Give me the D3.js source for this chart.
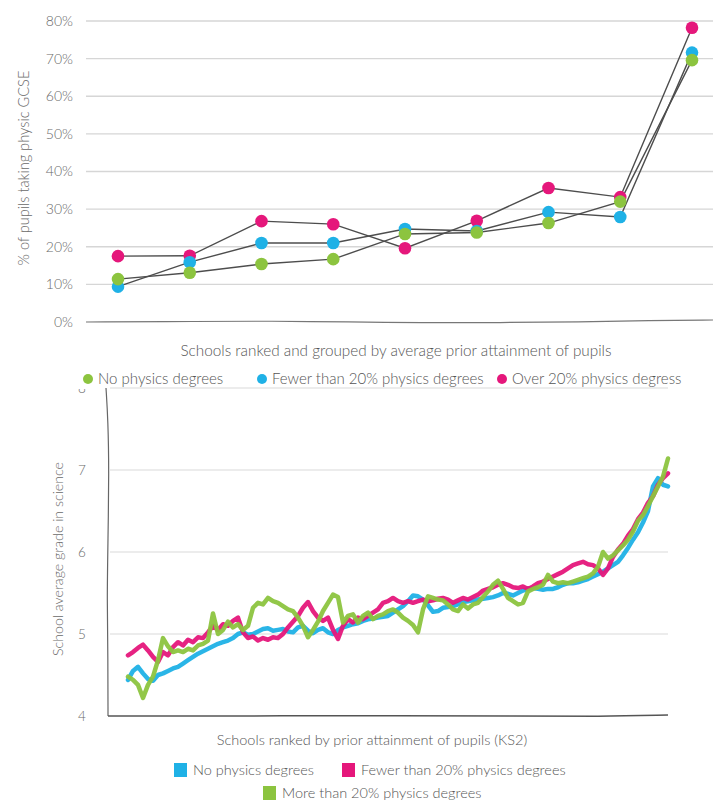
<!DOCTYPE html>
<html><head><meta charset="utf-8">
<script src="https://cdn.jsdelivr.net/npm/d3@7"></script>
<style>
body{margin:0;background:#fff;}
text{font-family:"Lato","Open Sans",sans-serif;font-weight:300;}
</style></head>
<body><svg id="c" width="713" height="802"></svg>
<script>
// ---------- Top chart data ----------
const groups = [1,2,3,4,5,6,7,8,9];
const topTicks = [0,10,20,30,40,50,60,70,80];
const noPhysicsPct    = [11.4,13.1,15.4,16.7,23.4,23.8,26.3,32.0,69.6];
const fewerPhysicsPct = [9.4,15.9,21.0,21.0,24.7,24.2,29.2,27.9,71.6];
const overPhysicsPct  = [17.5,17.6,26.8,26.0,19.6,26.9,35.6,33.2,78.2];
const topSeriesNames = ["No physics degrees","Fewer than 20% physics degrees","Over 20% physics degress"];

// ---------- Bottom chart data ----------
const bottomTicks = [4,5,6,7,8];
const noPhysicsGrade = [4.44,4.55,4.60,4.52,4.45,4.43,4.50,4.52,4.55,4.58,4.60,4.64,4.68,4.72,4.76,4.79,4.82,4.85,4.88,4.90,4.92,4.95,5.00,5.02,4.99,5.00,5.03,5.06,5.07,5.04,5.05,5.06,5.03,5.02,5.08,5.10,5.04,5.01,5.05,5.07,5.02,5.00,5.05,5.08,5.10,5.12,5.13,5.16,5.18,5.19,5.20,5.21,5.22,5.26,5.30,5.34,5.40,5.47,5.46,5.42,5.35,5.27,5.28,5.32,5.33,5.34,5.36,5.39,5.40,5.41,5.42,5.43,5.44,5.45,5.47,5.50,5.49,5.47,5.50,5.53,5.55,5.56,5.55,5.54,5.55,5.55,5.57,5.60,5.62,5.62,5.63,5.65,5.67,5.70,5.73,5.76,5.80,5.84,5.88,5.96,6.05,6.15,6.24,6.36,6.50,6.80,6.90,6.82,6.80];
const fewerPhysicsGrade = [4.74,4.78,4.83,4.87,4.80,4.72,4.66,4.78,4.74,4.84,4.90,4.86,4.93,4.90,4.96,4.95,5.02,5.10,5.05,5.12,5.10,5.16,5.20,5.02,4.95,4.97,4.92,4.95,4.93,4.96,4.95,5.00,5.08,5.15,5.22,5.32,5.39,5.28,5.20,5.16,5.20,5.05,4.94,5.10,5.18,5.14,5.20,5.18,5.22,5.26,5.30,5.38,5.40,5.44,5.40,5.38,5.40,5.38,5.40,5.42,5.40,5.41,5.43,5.44,5.42,5.38,5.41,5.44,5.42,5.45,5.48,5.53,5.55,5.57,5.60,5.62,5.60,5.57,5.56,5.58,5.55,5.58,5.62,5.64,5.67,5.70,5.73,5.76,5.80,5.84,5.86,5.88,5.85,5.84,5.80,5.72,5.80,5.94,6.03,6.10,6.20,6.28,6.40,6.48,6.60,6.68,6.82,6.90,6.96];
const morePhysicsGrade = [4.48,4.44,4.38,4.22,4.38,4.48,4.68,4.95,4.85,4.78,4.80,4.78,4.82,4.80,4.86,4.88,4.92,5.25,5.00,5.05,5.15,5.08,5.12,5.05,5.10,5.32,5.38,5.36,5.44,5.40,5.38,5.34,5.30,5.28,5.20,5.10,4.96,5.05,5.15,5.28,5.38,5.48,5.45,5.14,5.22,5.24,5.14,5.22,5.26,5.18,5.22,5.24,5.28,5.30,5.26,5.20,5.16,5.11,5.02,5.30,5.46,5.44,5.42,5.41,5.36,5.30,5.28,5.36,5.31,5.36,5.38,5.45,5.52,5.60,5.65,5.55,5.44,5.40,5.36,5.38,5.52,5.55,5.57,5.60,5.72,5.64,5.62,5.63,5.62,5.64,5.66,5.68,5.70,5.74,5.82,6.00,5.92,5.96,6.02,6.08,6.15,6.25,6.38,6.45,6.56,6.68,6.80,6.92,7.14];
const bottomSeriesNames = ["No physics degrees","Fewer than 20% physics degrees","More than 20% physics degrees"];

const GREEN="#8cc43f", BLUE="#1fb1e6", PINK="#e5177b";
const svg = d3.select("#c");
const txt = "#6a6a6a";

// ================= TOP CHART =================
const xT = d3.scalePoint().domain(groups).range([118,692]);
const yT = d3.scaleLinear().domain([0,80]).range([322,21]);
const gT = svg.append("g");
gT.selectAll("line.grid").data(topTicks.filter(d=>d>0)).join("line")
  .attr("x1",86).attr("x2",713).attr("y1",d=>yT(d)).attr("y2",d=>yT(d))
  .attr("stroke","#d6d6d6").attr("stroke-width",1.4);
const baseX = [86,200,270,350,420,500,580,650,713];
const baseOff = [0,-0.5,-1,0,0.8,0.6,0,-1.5,-2];
gT.append("path")
  .attr("d", d3.line().curve(d3.curveBasis)(baseX.map((x,i)=>[x,yT(0)+baseOff[i]])))
  .attr("fill","none").attr("stroke","#777").attr("stroke-width",1.2);
gT.selectAll("text.tick").data(topTicks).join("text")
  .attr("x",73).attr("y",d=>yT(d)).attr("dy","0.35em").attr("text-anchor","end")
  .attr("font-size",14).attr("fill",txt).text(d=>d+"%");
gT.append("text").attr("transform","translate(29,168) rotate(-90)").attr("text-anchor","middle")
  .attr("font-size",14.6).attr("fill",txt).text("% of pupils taking physic GCSE");
gT.append("text").attr("x",396).attr("y",351).attr("dy","0.35em").attr("text-anchor","middle")
  .attr("font-size",15.3).attr("fill","#555").text("Schools ranked and grouped by average prior attainment of pupils");

const topSeries = [
  {name:topSeriesNames[0], vals:noPhysicsPct, color:GREEN},
  {name:topSeriesNames[1], vals:fewerPhysicsPct, color:BLUE},
  {name:topSeriesNames[2], vals:overPhysicsPct, color:PINK}
];
const lineT = d3.line().x((d,i)=>xT(groups[i])).y(d=>yT(d));
topSeries.forEach(s=>{
  gT.append("path").attr("d",lineT(s.vals)).attr("fill","none")
    .attr("stroke","#4d4d4d").attr("stroke-width",1.4);
});
[2,1,0].forEach(k=>{
  const s = topSeries[k];
  gT.selectAll(null).data(s.vals).join("circle")
    .attr("cx",(d,i)=>xT(groups[i])).attr("cy",d=>yT(d)).attr("r",6.3).attr("fill",s.color);
});
const legT = [{x:88},{x:262},{x:502}];
topSeries.forEach((s,i)=>{
  gT.append("circle").attr("cx",legT[i].x).attr("cy",379).attr("r",5).attr("fill",s.color);
  gT.append("text").attr("x",legT[i].x+10).attr("y",379).attr("dy","0.35em")
    .attr("font-size",15).attr("fill","#555").text(s.name);
});

// ================= BOTTOM CHART =================
const n = noPhysicsGrade.length;
const xB = d3.scaleLinear().domain([0,n-1]).range([128,668]);
const yB = d3.scaleLinear().domain([4,8]).range([716,388]);
const gB = svg.append("g");
svg.append("defs").append("clipPath").attr("id","clipB").append("rect")
  .attr("x",0).attr("y",389).attr("width",713).attr("height",413);
gB.selectAll("line.grid").data(bottomTicks.filter(d=>d>4)).join("line")
  .attr("x1",110).attr("x2",668).attr("y1",d=>yB(d)).attr("y2",d=>yB(d))
  .attr("stroke","#d9d9d9").attr("stroke-width",1.2);
gB.append("g").attr("clip-path","url(#clipB)").selectAll("text").data(bottomTicks).join("text")
  .attr("x",82).attr("y",d=>yB(d)).attr("dy","0.35em").attr("text-anchor","middle")
  .attr("font-size",13.5).attr("fill",txt).text(d=>d);
const frameL = [[106,388],[108,420],[109,470],[108,540],[107,600],[108,660],[108,716]];
gB.append("path").attr("d",d3.line().curve(d3.curveBasis)(frameL))
  .attr("fill","none").attr("stroke","#666").attr("stroke-width",1.2);
const frameB = [[108,716],[250,716],[400,715.5],[520,716],[600,716.5],[668,715]];
gB.append("path").attr("d",d3.line().curve(d3.curveBasis)(frameB))
  .attr("fill","none").attr("stroke","#555").attr("stroke-width",1.5);

const bottomSeries = [
  {name:bottomSeriesNames[0], vals:noPhysicsGrade, color:BLUE},
  {name:bottomSeriesNames[1], vals:fewerPhysicsGrade, color:PINK},
  {name:bottomSeriesNames[2], vals:morePhysicsGrade, color:GREEN}
];
const lineB = d3.line().x((d,i)=>xB(i)).y(d=>yB(d));
bottomSeries.forEach(s=>{
  gB.append("path").attr("d",lineB(s.vals)).attr("fill","none")
    .attr("stroke",s.color).attr("stroke-width",4.5).attr("stroke-linejoin","round")
    .attr("stroke-linecap","round").attr("opacity",0.95);
});
gB.append("text").attr("transform","translate(63,559) rotate(-90)").attr("text-anchor","middle")
  .attr("font-size",14.2).attr("fill",txt).text("School average grade in science");
gB.append("text").attr("x",372).attr("y",740).attr("dy","0.35em").attr("text-anchor","middle")
  .attr("font-size",14.5).attr("fill","#555").text("Schools ranked by prior attainment of pupils (KS2)");
const legB = [{x:174,y:770},{x:342,y:770},{x:263,y:793}];
bottomSeries.forEach((s,i)=>{
  gB.append("rect").attr("x",legB[i].x).attr("y",legB[i].y-7).attr("width",13).attr("height",14).attr("fill",s.color);
  gB.append("text").attr("x",legB[i].x+19).attr("y",legB[i].y).attr("dy","0.35em")
    .attr("font-size",14.5).attr("fill","#555").text(s.name);
});
</script></body></html>
